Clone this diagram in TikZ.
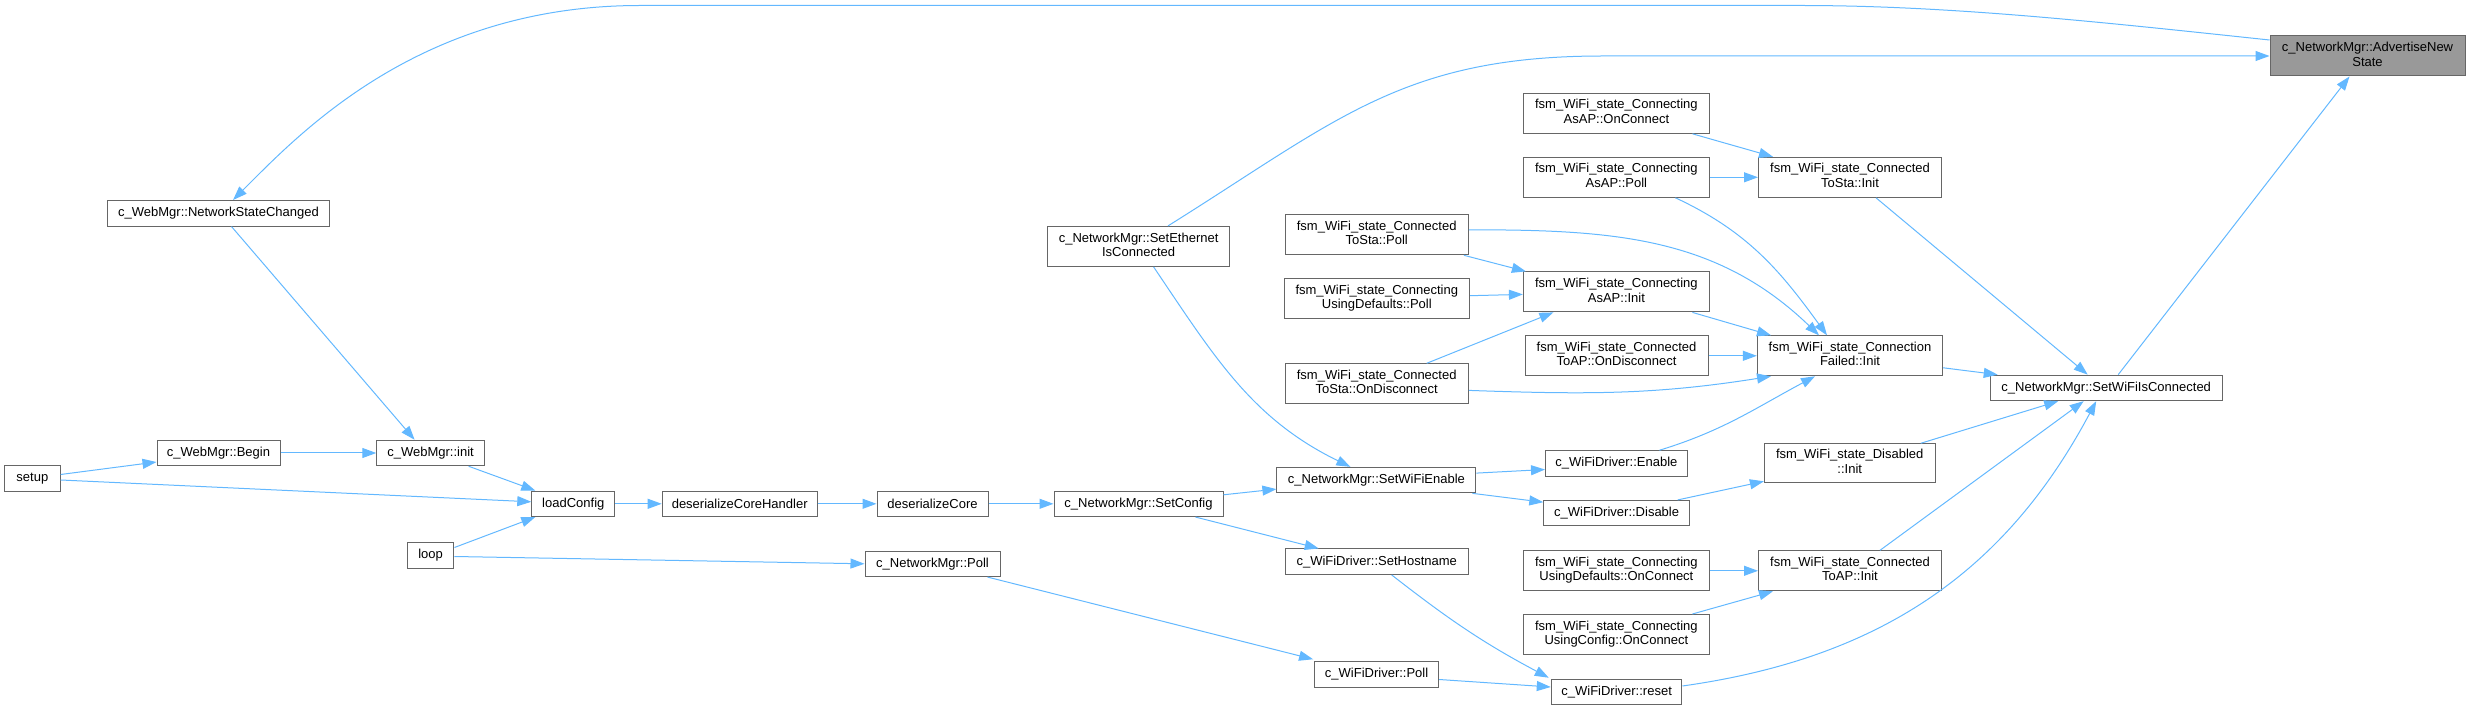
\documentclass[tikz,border=0pt]{standalone}
\usepackage{fontspec}
\setmainfont{Liberation Sans}
\usepackage{xcolor}
\usepackage{tikz}
\usetikzlibrary{positioning, arrows.meta}

\definecolor{edgeblue}{HTML}{63B8FF}
\definecolor{boxgray}{HTML}{666666}
\definecolor{selgray}{HTML}{999999}

\newcommand{\lbl}[2]{\begin{tabular}{@{}c@{}}#1\\#2\end{tabular}}

\begin{document}
\begin{tikzpicture}[
    x=1pt, y=1pt,
    fn/.style={rectangle, draw=boxgray, fill=white, line width=1pt, inner sep=0pt, minimum height=25.5pt, align=center, font=\fontsize{13pt}{14.5pt}\selectfont},
    fn2/.style={fn, minimum height=40pt},
    arr/.style={draw=edgeblue, line width=1pt, -{Triangle[length=14pt, width=10pt]}}
]
\useasboundingbox (0,0) rectangle (2471,710);

\node[fn2, fill=selgray, minimum width=195pt] (adv) at (2367.5, 654) {\lbl{c\_NetworkMgr::AdvertiseNew}{State}};
\node[fn, minimum width=222pt] (nsc) at (218.5, 496.7) {c\_WebMgr::NetworkStateChanged};
\node[fn, minimum width=55.4pt] (setup) at (32.4, 231.5) {setup};
\node[fn, minimum width=123pt] (begin) at (218.5, 257) {c\_WebMgr::Begin};
\node[fn, minimum width=107.6pt] (init) at (430.6, 257) {c\_WebMgr::init};
\node[fn, minimum width=83pt] (loadcfg) at (573.3, 206.2) {loadConfig};
\node[fn, minimum width=46.7pt] (loop) at (430.6, 154.5) {loop};
\node[fn2, minimum width=181.6pt] (sethernet) at (1138.6, 463.6) {\lbl{c\_NetworkMgr::SetEthernet}{IsConnected}};
\node[fn, minimum width=155pt] (dch) at (739.7, 206.2) {deserializeCoreHandler};
\node[fn, minimum width=111pt] (dc) at (932.5, 206.2) {deserializeCore};
\node[fn, minimum width=169pt] (setcfg) at (1138.5, 206.2) {c\_NetworkMgr::SetConfig};
\node[fn, minimum width=135pt] (nmpoll) at (932.5, 146.2) {c\_NetworkMgr::Poll};

\node[fn2, minimum width=186pt] (asaponc) at (1616.4, 596.7) {\lbl{fsm\_WiFi\_state\_Connecting}{AsAP::OnConnect}};
\node[fn2, minimum width=186pt] (asappoll) at (1616.4, 532.7) {\lbl{fsm\_WiFi\_state\_Connecting}{AsAP::Poll}};
\node[fn2, minimum width=183pt] (ctstainit) at (1850, 532.7) {\lbl{fsm\_WiFi\_state\_Connected}{ToSta::Init}};
\node[fn2, minimum width=183.4pt] (ctstapoll) at (1376.7, 475.2) {\lbl{fsm\_WiFi\_state\_Connected}{ToSta::Poll}};
\node[fn2, minimum width=185.6pt] (udpoll) at (1376.8, 411.3) {\lbl{fsm\_WiFi\_state\_Connecting}{UsingDefaults::Poll}};
\node[fn2, minimum width=186pt] (asapinit) at (1616.4, 418.1) {\lbl{fsm\_WiFi\_state\_Connecting}{AsAP::Init}};
\node[fn2, minimum width=183pt] (ctapdisc) at (1616.5, 354.2) {\lbl{fsm\_WiFi\_state\_Connected}{ToAP::OnDisconnect}};
\node[fn2, minimum width=183.4pt] (ctstadisc) at (1376.7, 326.2) {\lbl{fsm\_WiFi\_state\_Connected}{ToSta::OnDisconnect}};
\node[fn2, minimum width=185.3pt] (cfinit) at (1850, 354.2) {\lbl{fsm\_WiFi\_state\_Connection}{Failed::Init}};
\node[fn, minimum width=199pt] (setwifien) at (1376.4, 229.9) {c\_NetworkMgr::SetWiFiEnable};
\node[fn, minimum width=141.8pt] (enable) at (1616.4, 246.5) {c\_WiFiDriver::Enable};
\node[fn, minimum width=145.6pt] (disable) at (1616.6, 196.8) {c\_WiFiDriver::Disable};
\node[fn2, minimum width=170.6pt, minimum height=39pt] (disinit) at (1849.7, 246.7) {\lbl{fsm\_WiFi\_state\_Disabled}{::Init}};
\node[fn, minimum width=183.4pt] (sethost) at (1376.7, 148.3) {c\_WiFiDriver::SetHostname};
\node[fn2, minimum width=186pt] (udonc) at (1616.4, 139.2) {\lbl{fsm\_WiFi\_state\_Connecting}{UsingDefaults::OnConnect}};
\node[fn2, minimum width=183pt] (ctapinit) at (1850, 139.2) {\lbl{fsm\_WiFi\_state\_Connected}{ToAP::Init}};
\node[fn2, minimum width=186pt] (ucfgonc) at (1616.4, 75.5) {\lbl{fsm\_WiFi\_state\_Connecting}{UsingConfig::OnConnect}};
\node[fn, minimum width=124pt] (wdpoll) at (1376.6, 35.5) {c\_WiFiDriver::Poll};
\node[fn, minimum width=130.7pt] (reset) at (1616.6, 18) {c\_WiFiDriver::reset};
\node[fn, minimum width=232pt] (setwific) at (2106.2, 322.1) {c\_NetworkMgr::SetWiFiIsConnected};

\draw[arr] ([yshift=16pt]adv.west) .. controls (2100, 688) and (1950, 704.5) .. (1800, 704.5) -- (640, 704.5) .. controls (420, 704.5) and (300, 577) .. ([xshift=14.5pt]nsc.north);
\draw[arr] ([xshift=29.4pt]sethernet.north) .. controls +(32:200) and +(-200,0) .. (1603, 654) -- (adv.west);
\draw[arr] ([xshift=12pt]setwific.north) -- ([xshift=-18pt]adv.south);
\draw[arr] ([xshift=13pt]nsc.south) -- ([xshift=-16pt]init.north);
\draw[arr] ([yshift=4pt]setup.east) -- ([yshift=-9pt]begin.west);
\draw[arr] (begin.east) -- (init.west);
\draw[arr] ([yshift=-1.5pt]setup.east) -- ([yshift=2pt]loadcfg.west);
\draw[arr] ([xshift=38pt]init.south) -- ([xshift=-38pt]loadcfg.north);
\draw[arr] ([yshift=8pt]loop.east) -- ([xshift=-38pt]loadcfg.south);
\draw[arr] ([yshift=-1pt]loop.east) -- (nmpoll.west);
\draw[arr] (loadcfg.east) -- (dch.west);
\draw[arr] (dch.east) -- (dc.west);
\draw[arr] (dc.east) -- (setcfg.west);
\draw[arr] ([yshift=9pt]setcfg.east) -- ([yshift=-9pt]setwifien.west);
\draw[arr] ([xshift=57pt]setcfg.south) -- ([xshift=-58pt]sethost.north);
\draw[arr] ([xshift=15pt]sethernet.south) to[out=-56, in=154] ([xshift=-26pt]setwifien.north);
\draw[arr] ([yshift=7pt]setwifien.east) -- ([yshift=-6pt]enable.west);
\draw[arr] ([xshift=-4pt]setwifien.south east) -- ([yshift=11pt]disable.west);
\draw[arr] ([xshift=43pt]enable.north) to[out=17, in=-152] ([xshift=-35pt]cfinit.south);
\draw[arr] ([xshift=61pt]disable.north) -- ([yshift=2pt]disinit.south west);
\draw[arr] ([xshift=15pt]sethost.south) to[out=-38, in=152] ([xshift=-2pt, yshift=1pt]reset.north west);
\draw[arr] ([xshift=55pt]nmpoll.south) -- ([xshift=-1pt, yshift=2pt]wdpoll.north west);
\draw[arr] ([yshift=-5pt]wdpoll.east) -- ([yshift=5pt]reset.west);
\draw[arr] ([yshift=6pt]reset.east) to[out=8, in=-118] ([xshift=-10pt]setwific.south);
\draw[arr] ([xshift=76pt]asaponc.south) -- ([xshift=-77pt]ctstainit.north);
\draw[arr] (asappoll.east) -- (ctstainit.west);
\draw[arr] ([xshift=59pt]asappoll.south) to[out=-25, in=126] ([xshift=-23pt]cfinit.north);
\draw[arr] ([xshift=-5pt]ctstapoll.south east) -- ([xshift=3pt]asapinit.north west);
\draw[arr] ([yshift=5pt]ctstapoll.east) to[out=0, in=136] ([xshift=-31pt]cfinit.north);
\draw[arr] ([yshift=3pt]udpoll.east) -- ([yshift=-2.5pt]asapinit.west);
\draw[arr] ([xshift=50pt]ctstadisc.north) -- ([xshift=-63pt]asapinit.south);
\draw[arr] ([yshift=-6.6pt]ctstadisc.east) to[out=-2, in=-171] ([xshift=-79pt]cfinit.south);
\draw[arr] ([xshift=76pt]asapinit.south) -- ([xshift=-79pt]cfinit.north);
\draw[arr] (ctapdisc.east) -- (cfinit.west);
\draw[arr] ([xshift=26pt]ctstainit.south) -- ([xshift=-18.5pt]setwific.north);
\draw[arr] ([yshift=-12pt]cfinit.east) -- ([xshift=8pt]setwific.north west);
\draw[arr] ([xshift=71pt]disinit.north) -- ([xshift=-48pt]setwific.south);
\draw[arr] ([xshift=30pt]ctapinit.north) -- ([xshift=-22.5pt]setwific.south);
\draw[arr] (udonc.east) -- (ctapinit.west);
\draw[arr] ([xshift=76pt]ucfgonc.north) -- ([xshift=-77pt]ctapinit.south);

\end{tikzpicture}
\end{document}
